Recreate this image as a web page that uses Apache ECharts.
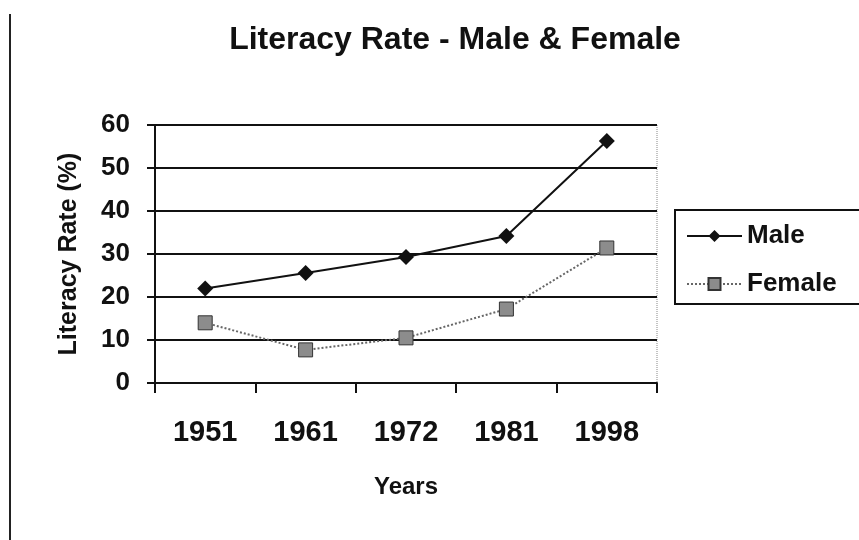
<!DOCTYPE html>
<html>
<head>
<meta charset="utf-8">
<script src="https://cdn.jsdelivr.net/npm/echarts@6/dist/echarts.min.js"></script>
<style>
  html, body { margin: 0; padding: 0; background: #fff; }
  #main { width: 859px; height: 540px; }
</style>
</head>
<body>
<div id="main"></div>
<script>
var years = ['1951', '1961', '1972', '1981', '1998'];
var male = [22, 25.6, 29.3, 34.2, 56.3];
var female = [14, 7.7, 10.5, 17.2, 31.4];

var chart = echarts.init(document.getElementById('main'));

var option = {
    backgroundColor: '#fff',
    animation: false,
    title: {
        text: 'Literacy Rate - Male & Female',
        left: 450,
        top: 19,
        textAlign: 'center',
        textStyle: {
            fontFamily: 'Liberation Sans',
            fontWeight: 'bold',
            fontSize: 32,
            color: '#111'
        }
    },
    legend: {
        orient: 'vertical',
        left: 675,
        top: 210,
        padding: [13, 40, 7, 11],
        itemGap: 22,
        itemWidth: 55,
        itemHeight: 15,
        borderColor: '#111',
        borderWidth: 2,
        textStyle: {
            fontFamily: 'Liberation Sans',
            fontWeight: 'bold',
            fontSize: 26,
            color: '#111'
        },
        data: ['Male', 'Female']
    },
    grid: {
        left: 155,
        top: 125,
        width: 502,
        height: 258,
        show: true,
        borderColor: '#888',
        borderWidth: 1,
        borderType: 'dotted'
    },
    xAxis: {
        type: 'category',
        data: years,
        boundaryGap: true,
        name: 'Years',
        nameLocation: 'middle',
        nameGap: 92,
        nameTextStyle: {
            fontFamily: 'Liberation Sans',
            fontWeight: 'bold',
            fontSize: 24,
            color: '#111'
        },
        axisLine: { lineStyle: { color: '#111', width: 2 } },
        axisTick: { show: true, length: 10, lineStyle: { color: '#111', width: 2 } },
        axisLabel: {
            margin: 35,
            fontFamily: 'Liberation Sans',
            fontWeight: 'bold',
            fontSize: 29,
            color: '#111'
        }
    },
    yAxis: {
        type: 'value',
        min: 0,
        max: 60,
        interval: 10,
        name: 'Literacy Rate (%)',
        nameLocation: 'middle',
        nameRotate: 90,
        nameGap: 73,
        nameTextStyle: {
            fontFamily: 'Liberation Sans',
            fontWeight: 'bold',
            fontSize: 25,
            color: '#111'
        },
        axisLine: { show: true, lineStyle: { color: '#111', width: 2 } },
        axisTick: { show: true, length: 8, lineStyle: { color: '#111', width: 2 } },
        axisLabel: {
            margin: 25,
            fontFamily: 'Liberation Sans',
            fontWeight: 'bold',
            fontSize: 26,
            color: '#111'
        },
        splitLine: { show: true, lineStyle: { color: '#111', width: 2 } }
    },
    series: [
        {
            name: 'Male',
            type: 'line',
            data: male,
            symbol: 'diamond',
            symbolSize: 16,
            itemStyle: { color: '#111' },
            lineStyle: { color: '#111', width: 2 }
        },
        {
            name: 'Female',
            type: 'line',
            data: female,
            symbol: 'rect',
            symbolSize: 14,
            itemStyle: { color: '#8c8c8c', borderColor: '#333', borderWidth: 1 },
            lineStyle: { color: '#666', width: 2, type: 'dotted' }
        }
    ],
    graphic: [
        {
            type: 'line',
            shape: { x1: 10, y1: 14, x2: 10, y2: 540 },
            style: { stroke: '#222', lineWidth: 2 }
        }
    ]
};

chart.setOption(option);
</script>
</body>
</html>
